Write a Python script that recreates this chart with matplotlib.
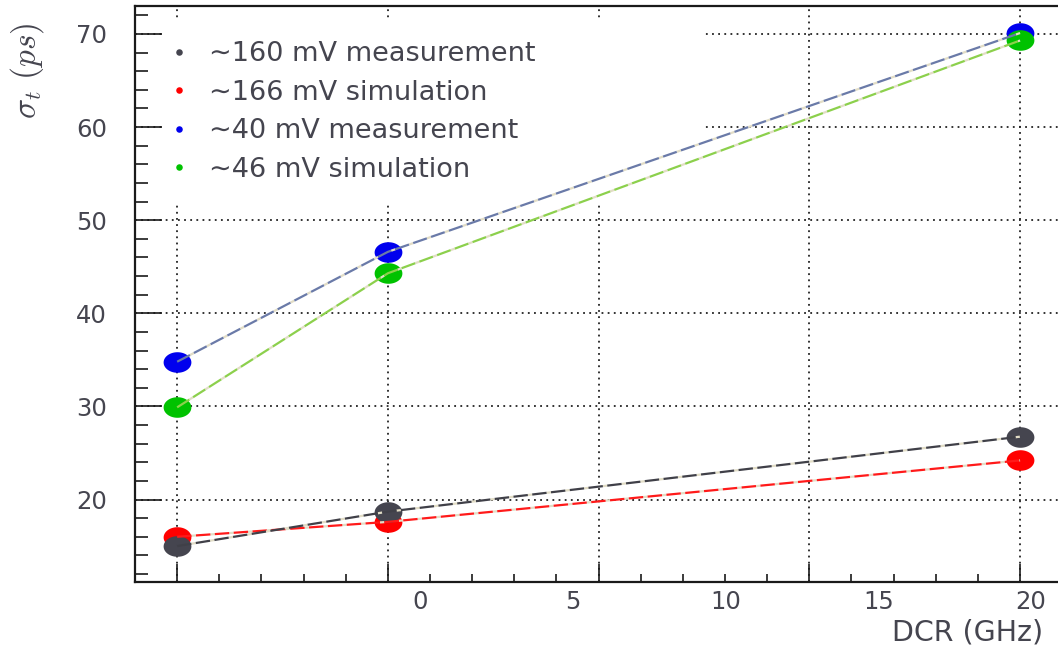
import matplotlib.pyplot as plt
import numpy as np
from matplotlib.lines import Line2D
from matplotlib.path import Path
from matplotlib.patches import Rectangle
from matplotlib.ticker import MultipleLocator

# sigma_t (ps) against dark count rate (GHz)
dcr = [0, 5, 20]
meas_160 = [15.0, 18.7, 26.75]
sim_166 = [16.0, 17.6, 24.2]
meas_40 = [34.8, 46.6, 70.1]
sim_46 = [29.9, 44.3, 69.3]

names = ["∼160 mV measurement", "∼166 mV simulation",
         "∼40 mV measurement", "∼46 mV simulation"]
x_tick_labels = [0, 5, 10, 15, 20]

text_color = "#45454f"
dot_colors = ["#45454f", "#ff0000", "#0000ee", "#00c200"]
line_colors = ["#404048", "#ff1a1a", "#6a7aa8", "#8cd04c"]

# the printed DCR scale sits offset from the tick marks
LABEL_OFFSET = 5.765
LABEL_SCALE = 0.7248

plt.rcParams["mathtext.fontset"] = "cm"

# wide elliptical marker
t = np.linspace(0, 2 * np.pi, 64)
ellipse = Path(np.column_stack([1.35 * np.cos(t), np.sin(t)]))

fig = plt.figure(figsize=(10.58, 6.49), dpi=100)
ax = fig.add_axes([0.1276, 0.1032, 0.8724, 0.8875])

ax.set_xlim(-1.0, 20.9)
ax.set_ylim(11.14, 73.0)
ax.xaxis.set_major_locator(MultipleLocator(5))
ax.xaxis.set_minor_locator(MultipleLocator(1))
ax.yaxis.set_major_locator(MultipleLocator(10))
ax.yaxis.set_minor_locator(MultipleLocator(2))

# dotted grid drawn by hand so the legend box can cover it but not the ticks
for xv in ax.xaxis.get_majorticklocs():
    if -1.0 < xv < 20.9:
        ax.axvline(xv, color="#222222", ls=(0, (1, 2.4)), lw=1.3, zorder=1)
for yv in ax.yaxis.get_majorticklocs():
    if 11.14 < yv < 73.0:
        ax.axhline(yv, color="#222222", ls=(0, (1, 2.4)), lw=1.3, zorder=1)

ax.add_patch(Rectangle((0.0325, 0.6545), 0.585, 0.3194, transform=ax.transAxes,
                       facecolor="white", edgecolor="none", zorder=1.5))

series = [meas_160, sim_166, meas_40, sim_46]
draw_order = [1, 0, 2, 3]
for i in draw_order:
    ax.plot(dcr, series[i], ls="none", marker=ellipse, ms=20,
            color=dot_colors[i], mew=0, zorder=3)
for i in draw_order:
    ax.plot(dcr, series[i], color=line_colors[i], lw=1.6, dashes=(6.5, 2.0),
            gapcolor="#e2ddc6", zorder=4)

for side in ["top", "left", "bottom"]:
    ax.spines[side].set_linewidth(1.6)
    ax.spines[side].set_color("#1a1a1a")
ax.spines["right"].set_visible(False)

ax.tick_params(axis="both", which="both", direction="in", color="#1a1a1a",
               width=1.2)
ax.tick_params(axis="x", which="major", length=13, labelbottom=False)
ax.tick_params(axis="x", which="minor", length=6)
ax.tick_params(axis="y", which="major", length=19.5, pad=20,
               labelsize=17.5, labelcolor=text_color)
ax.tick_params(axis="y", which="minor", length=9.4)

sec = ax.secondary_xaxis(
    "bottom",
    functions=(lambda x: (x - LABEL_OFFSET) / LABEL_SCALE,
               lambda v: LABEL_OFFSET + LABEL_SCALE * v))
sec.set_xticks(x_tick_labels)
sec.tick_params(length=0, pad=6, labelsize=17.5, labelcolor=text_color)
sec.spines["bottom"].set_visible(False)

handles = [Line2D([], [], ls="none", marker="o", ms=4.7, color=c, mew=0)
           for c in dot_colors]
ax.legend(handles, names, loc="upper left", bbox_to_anchor=(0.039, 0.939),
          frameon=False, fontsize=19.5, labelcolor=text_color,
          borderpad=0, borderaxespad=0, handlelength=0.6, handletextpad=0.8,
          labelspacing=0.46)

fig.text(1043 / 1058, 1 - 633 / 649, "DCR (GHz)", ha="right", va="center",
         fontsize=20.5, color=text_color)
fig.text(27 / 1058, 1 - 71 / 649, r"$\sigma_t\ (ps)$", rotation=90,
         ha="center", va="center", fontsize=24, color=text_color)

fig.savefig("out.png", dpi=100)
